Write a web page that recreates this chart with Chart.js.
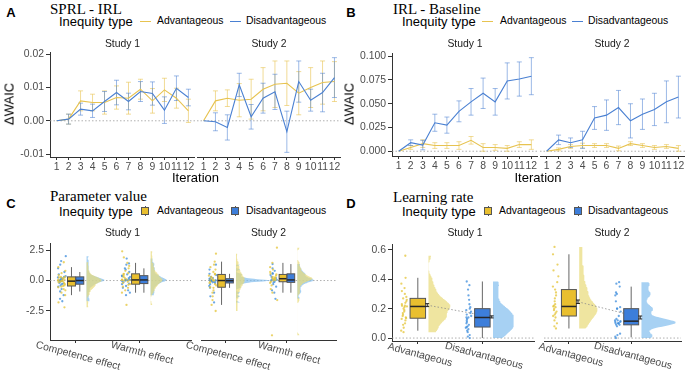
<!DOCTYPE html>
<html lang="en">
<head>
<meta charset="UTF-8">
<title>Inequity type: model comparison and parameters</title>
<script src="https://cdn.jsdelivr.net/npm/chart.js"></script>
<style>
  body { margin:0; background:#fff; font-family:"Liberation Sans", Arial, sans-serif; }
  #fig { position:relative; width:685px; height:371px; overflow:hidden; background:#fff; }
  #fig canvas { position:absolute; }
  .t  { position:absolute; white-space:nowrap; transform:translate(-50%,-50%); color:#000; line-height:1; }
  .tl { position:absolute; white-space:nowrap; transform:translateY(-50%); color:#000; line-height:1; }
  .tag  { font-weight:bold; font-size:13px; }
  .ttl  { font-family:"Liberation Serif","Times New Roman",serif; font-size:15px; }
  .legt { font-size:13px; }
  .leg  { font-size:10.4px; }
  .strip{ font-size:10.4px; color:#1a1a1a; }
  .axt  { font-size:13px; }
  .cat  { font-size:10.4px; color:#4D4D4D; }
  .rot  { transform:translate(-50%,-50%) rotate(-90deg); }
  .kl { position:absolute; height:0; border-top:1.2px solid; }
  .kb { position:absolute; width:6px; height:6px; border:1px solid #555; }
  .kw { position:absolute; width:0; height:10px; border-left:1px solid #555; }
</style>
</head>
<body>
<div id="fig"></div>
<script>
// ---------- data ----------
const iterations = [1,2,3,4,5,6,7,8,9,10,11,12];

// A: SPRL - IRL (delta WAIC, mean and error)
const sprlAdvS1    = [0,0.0005,0.006,0.0055,0.0055,0.007,0.0068,0.0095,0.006,0.0093,0.0068,0.003];
const sprlAdvS1Err = [0,0.0015,0.003,0.0025,0.0035,0.0035,0.0048,0.003,0.0037,0.0035,0.003,0.0035];
const sprlDisS1    = [0,0.0005,0.0035,0.003,0.0058,0.0085,0.0058,0.0088,0.0082,0.0032,0.0098,0.007];
const sprlDisS1Err = [0,0.0015,0.0018,0.002,0.003,0.0037,0.0025,0.003,0.0035,0.004,0.0037,0.0025];
const sprlAdvS2    = [0,0.006,0.0068,0.0062,0.0065,0.0095,0.011,0.0113,0.0083,0.01,0.0115,0.0118];
const sprlAdvS2Err = [0,0.003,0.0025,0.005,0.006,0.0065,0.007,0.0067,0.0065,0.006,0.0065,0.006];
const sprlDisS2    = [0,-0.0003,-0.002,0.0108,0.0012,0.0068,0.0087,-0.0033,0.0118,0.0062,0.0085,0.013];
const sprlDisS2Err = [0,0.0027,0.0038,0.0035,0.0037,0.0045,0.0053,0.0062,0.0062,0.0033,0.0058,0.006];

// B: IRL - Baseline
const irlAdvS1    = [0,0.004,0.008,0.006,0.006,0.006,0.0115,0.004,0.004,0.003,0.007,0.007];
const irlAdvS1Err = [0,0.002,0.004,0.003,0.003,0.004,0.004,0.004,0.003,0.003,0.003,0.005];
const irlDisS1    = [0,0.009,0.0065,0.030,0.0275,0.042,0.052,0.061,0.052,0.074,0.076,0.079];
const irlDisS1Err = [0,0.003,0.005,0.009,0.0085,0.011,0.014,0.016,0.014,0.019,0.018,0.0195];
const irlAdvS2    = [0,0.002,0.005,0.006,0.006,0.006,0.003,0.008,0.006,0.004,0.005,0.003];
const irlAdvS2Err = [0,0.0015,0.002,0.0025,0.002,0.002,0.0025,0.002,0.002,0.002,0.002,0.003];
const irlDisS2    = [0,0.012,0.009,0.012,0.035,0.038,0.046,0.032,0.039,0.044,0.052,0.057];
const irlDisS2Err = [0,0.005,0.005,0.009,0.012,0.016,0.018,0.018,0.016,0.017,0.022,0.022];

// C: parameter values, [competence, warmth]
const paramCats = ['Competence effect','Warmth effect'];
const paramAdvS1 = [
  [-2.2,-1.8,-1.2,-1.0,-0.8,-0.7,-0.55,-0.5,-0.45,-0.4,-0.3,-0.2,-0.15,-0.1,-0.05,-0.05,0,0,0.05,0.1,0.15,0.2,0.25,0.3,0.3,0.45,0.6,0.8,1.1,1.5],
  [-2.0,-1.0,-0.8,-0.6,-0.5,-0.35,-0.3,-0.2,-0.1,0,0.02,0.05,0.08,0.1,0.2,0.3,0.4,0.5,0.55,0.6,0.8,1.0,1.2,1.45,1.9,2.4]];
const paramDisS1 = [
  [-1.7,-1.5,-1.2,-0.9,-0.7,-0.5,-0.4,-0.3,-0.25,-0.2,-0.1,-0.05,0,0,0,0.02,0.05,0.1,0.15,0.2,0.25,0.3,0.35,0.5,0.7,1.0,1.3,1.6,2.0],
  [-1.2,-1.0,-0.8,-0.6,-0.45,-0.3,-0.25,-0.15,-0.05,0,0.03,0.05,0.05,0.08,0.1,0.2,0.3,0.35,0.4,0.5,0.7,0.9,1.0,1.3,1.4,1.8]];
const paramAdvS2 = [
  [-2.5,-2.0,-1.6,-1.3,-1.0,-0.8,-0.6,-0.55,-0.4,-0.3,-0.2,-0.1,0,0,0.05,0.1,0.2,0.3,0.4,0.5,0.55,0.7,0.9,1.1,1.3,1.55,2.2],
  [-4.5,-1.6,-1.0,-0.7,-0.4,-0.2,-0.1,0,0.05,0.1,0.15,0.15,0.2,0.25,0.3,0.4,0.5,0.55,0.7,0.9,1.1,1.45,2.7]];
const paramDisS2 = [
  [-1.8,-1.3,-1.0,-0.6,-0.45,-0.3,-0.2,-0.15,-0.1,-0.05,-0.03,-0.02,-0.01,0,0,0.02,0.05,0.08,0.12,0.15,0.2,0.3,0.45,0.55,0.9,1.3],
  [-1.5,-1.0,-0.8,-0.5,-0.3,-0.15,-0.1,0,0.02,0.05,0.08,0.1,0.2,0.3,0.45,0.55,0.6,0.8,1.0,1.35]];
// box stats: [lower whisker, q1, median, q3, upper whisker]
const paramBoxAdvS1 = [[-1.2,-0.45,-0.05,0.3,1.1],[-1.0,-0.3,0.05,0.55,1.45]];
const paramBoxDisS1 = [[-0.9,-0.3,0,0.3,0.7],[-1.0,-0.25,0.05,0.4,1.0]];
const paramBoxAdvS2 = [[-2.0,-0.55,0,0.5,1.55],[-1.0,-0.1,0.15,0.5,1.45]];
const paramBoxDisS2 = [[-0.6,-0.2,-0.02,0.15,0.55],[-1.0,-0.15,0.05,0.55,1.35]];

// D: learning rate, [advantageous, disadvantageous]
const lrCats = ['Advantageous','Disadvantageous'];
const lrS1 = [
  [0.04,0.05,0.07,0.09,0.1,0.12,0.13,0.135,0.14,0.15,0.16,0.17,0.18,0.19,0.2,0.21,0.215,0.22,0.22,0.23,0.24,0.25,0.26,0.27,0.28,0.3,0.32,0.34,0.37,0.41,0.56],
  [0,0.01,0.02,0.04,0.05,0.06,0.07,0.075,0.08,0.09,0.1,0.11,0.12,0.13,0.14,0.14,0.15,0.16,0.17,0.18,0.19,0.2,0.21,0.23,0.26,0.29,0.33,0.36,0.385]];
const lrS2 = [
  [0.065,0.08,0.1,0.12,0.14,0.15,0.16,0.17,0.18,0.19,0.2,0.21,0.215,0.22,0.23,0.25,0.27,0.29,0.31,0.33,0.35,0.38,0.42,0.46,0.5,0.57,0.62],
  [0,0.01,0.02,0.03,0.08,0.09,0.09,0.1,0.1,0.1,0.1,0.11,0.11,0.115,0.12,0.12,0.13,0.15,0.18,0.2,0.2,0.21,0.25,0.29,0.3,0.31,0.35,0.37,0.38]];
const lrBoxS1 = [[0.05,0.135,0.215,0.27,0.41],[0.0,0.075,0.14,0.2,0.385]];
const lrBoxS2 = [[0.065,0.15,0.215,0.33,0.57],[0.005,0.09,0.115,0.2,0.35]];
const lrMeanS1 = [0.224,0.144], lrSeS1 = [0.01,0.007];
const lrMeanS2 = [0.247,0.14],  lrSeS2 = [0.012,0.01];

// ---------- style ----------
const FONT = '"Liberation Sans", Arial, Helvetica, sans-serif';
const TICK = '#4D4D4D', AXIS = '#333333';
const ADV = { line:'#E7C350', err:'rgba(231,195,80,0.6)',  box:'#E9BF2F', pt:'rgba(228,196,55,0.75)', vio:'rgba(232,218,120,0.7)' };
const DIS = { line:'#4A80D2', err:'rgba(74,128,210,0.55)', box:'#3D7EDA', pt:'rgba(60,140,220,0.75)', vio:'rgba(130,190,238,0.7)' };
const fig = document.getElementById('fig');

// ---------- plugins ----------
const zeroLine = {
  id: 'zeroLine',
  beforeDatasetsDraw(chart) {
    const {ctx, chartArea: a, scales: {y}} = chart;
    const py = y.getPixelForValue(0);
    ctx.save();
    ctx.strokeStyle = '#9a9a9a'; ctx.lineWidth = 0.8; ctx.setLineDash([1.5, 2]);
    ctx.beginPath(); ctx.moveTo(a.left, py); ctx.lineTo(a.right, py); ctx.stroke();
    ctx.restore();
  }
};

const errorBars = {
  id: 'errorBars',
  beforeDatasetsDraw(chart) {
    const {ctx, scales: {x, y}} = chart;
    chart.data.datasets.forEach(ds => {
      if (!ds.errors) return;
      ctx.save();
      ctx.strokeStyle = ds.errorColor; ctx.lineWidth = 1;
      ds.data.forEach((p, i) => {
        const e = ds.errors[i];
        if (!e) return;
        const px = x.getPixelForValue(p.x);
        const t = y.getPixelForValue(p.y + e), b = y.getPixelForValue(p.y - e);
        ctx.beginPath();
        ctx.moveTo(px, t); ctx.lineTo(px, b);
        ctx.moveTo(px - 2.5, t); ctx.lineTo(px + 2.5, t);
        ctx.moveTo(px - 2.5, b); ctx.lineTo(px + 2.5, b);
        ctx.stroke();
      });
      ctx.restore();
    });
  }
};

function boxLayer(groups, linkMeans) {
  return {
    id: 'boxLayer',
    afterDatasetsDraw(chart) {
      const {ctx, scales: {x, y}} = chart;
      ctx.save();
      if (linkMeans) {
        const m = groups.filter(g => g.mean != null);
        ctx.strokeStyle = '#8a8a8a'; ctx.lineWidth = 0.8; ctx.setLineDash([1.5, 2]);
        ctx.beginPath();
        m.forEach((g, i) => {
          const px = x.getPixelForValue(g.meanPos), py = y.getPixelForValue(g.mean);
          i ? ctx.lineTo(px, py) : ctx.moveTo(px, py);
        });
        ctx.stroke();
        ctx.setLineDash([]);
      }
      groups.forEach(g => {
        const [lo, q1, md, q3, hi] = g.box;
        const xc = x.getPixelForValue(g.boxPos);
        const xl = x.getPixelForValue(g.boxPos - g.half), xr = x.getPixelForValue(g.boxPos + g.half);
        const yt = y.getPixelForValue(q3), yb = y.getPixelForValue(q1);
        ctx.strokeStyle = '#666'; ctx.lineWidth = 1;
        ctx.beginPath();
        ctx.moveTo(xc, y.getPixelForValue(hi)); ctx.lineTo(xc, yt);
        ctx.moveTo(xc, yb); ctx.lineTo(xc, y.getPixelForValue(lo));
        ctx.stroke();
        ctx.fillStyle = g.pal.box;
        ctx.fillRect(xl, yt, xr - xl, yb - yt);
        ctx.strokeStyle = '#555';
        ctx.strokeRect(xl, yt, xr - xl, yb - yt);
        ctx.strokeStyle = '#262626'; ctx.lineWidth = 1.5;
        const ym = y.getPixelForValue(md);
        ctx.beginPath(); ctx.moveTo(xl, ym); ctx.lineTo(xr, ym); ctx.stroke();
        if (g.mean != null) {
          const mx = x.getPixelForValue(g.meanPos);
          const t = y.getPixelForValue(g.mean + g.se), b = y.getPixelForValue(g.mean - g.se);
          ctx.strokeStyle = '#222'; ctx.lineWidth = 1;
          ctx.beginPath();
          ctx.moveTo(mx, t); ctx.lineTo(mx, b);
          ctx.moveTo(mx - 2, t); ctx.lineTo(mx + 2, t);
          ctx.moveTo(mx - 2, b); ctx.lineTo(mx + 2, b);
          ctx.stroke();
        }
      });
      ctx.restore();
    }
  };
}

// ---------- helpers ----------
function frame(box, yw, xh) {
  const [L, T, R, B] = box;
  const left = L - yw, top = T - 10;
  const c = document.createElement('canvas');
  c.width = R - left; c.height = B + xh - top;
  c.style.left = left + 'px'; c.style.top = top + 'px';
  fig.appendChild(c);
  return c;
}

function xScale(min, max, ticks, xh, showLabels) {
  return {
    type: 'linear', min, max,
    afterBuildTicks: s => { s.ticks = ticks.map(v => ({value: v})); },
    afterFit: s => { s.height = xh; s.paddingLeft = 0; s.paddingRight = 0; },
    border: { color: AXIS, width: 1 },
    grid: { drawOnChartArea: false, tickLength: 3, tickColor: AXIS },
    ticks: { color: TICK, font: {family: FONT, size: 10.4}, padding: 1, maxRotation: 0, minRotation: 0,
             autoSkip: false, callback: v => showLabels ? String(v) : '' }
  };
}

function yScale(min, max, ticks, labels, show, yw) {
  return {
    type: 'linear', display: show, min, max,
    afterBuildTicks: s => { s.ticks = ticks.map(v => ({value: v})); },
    afterFit: s => { s.width = yw; s.paddingTop = 0; s.paddingBottom = 0; },
    border: { color: AXIS, width: 1 },
    grid: { drawOnChartArea: false, tickLength: 4, tickColor: AXIS },
    ticks: { color: TICK, font: {family: FONT, size: 10.4}, padding: 2, callback: (v, i) => labels[i] }
  };
}

const baseOptions = (extra) => Object.assign({
  responsive: false, animation: false, events: [], devicePixelRatio: 1,
  layout: { padding: { top: 10, left: 0, right: 0, bottom: 0 } },
  plugins: { legend: {display: false}, tooltip: {enabled: false} }
}, extra);

function lineFacet(box, showY, yRange, yTicks, yLabels, series) {
  const yw = showY ? box[0] - (box[0] > 300 ? 342 : 0) : 0;
  new Chart(frame(box, yw, 14), {
    type: 'scatter',
    data: { datasets: series.map(s => ({
      data: iterations.map((it, i) => ({x: it, y: s.values[i]})),
      errors: s.errors, errorColor: s.pal.err,
      showLine: true, borderColor: s.pal.line, borderWidth: 1.1, pointRadius: 0, tension: 0, order: s.order
    })) },
    options: baseOptions({ scales: {
      x: xScale(0.45, 12.55, iterations, 14, true),
      y: yScale(yRange[0], yRange[1], yTicks, yLabels, showY, yw)
    } }),
    plugins: [zeroLine, errorBars]
  });
}

function kde(vals, adjust) {
  const n = vals.length, mean = vals.reduce((a, b) => a + b, 0) / n;
  const sd = Math.sqrt(vals.reduce((a, b) => a + (b - mean) ** 2, 0) / (n - 1));
  const s = [...vals].sort((a, b) => a - b);
  const q = p => { const h = (n - 1) * p, l = Math.floor(h); return s[l] + (s[Math.min(l + 1, n - 1)] - s[l]) * (h - l); };
  const bw = 0.9 * Math.min(sd, (q(0.75) - q(0.25)) / 1.34) * Math.pow(n, -0.2) * adjust;
  const out = [];
  for (let k = 0; k <= 120; k++) {
    const yv = s[0] + (s[n - 1] - s[0]) * k / 120;
    let d = 0;
    vals.forEach(v => { d += Math.exp(-0.5 * ((yv - v) / bw) ** 2); });
    out.push({y: yv, d: d / (n * bw * Math.sqrt(2 * Math.PI))});
  }
  return out;
}

// deterministic horizontal jitter for the dot strip
const jitter = (i, seed) => { const s = Math.sin((i + 1) * 12.9898 + seed * 78.233) * 43758.5453; return s - Math.floor(s); };

function rainFacet(box, showY, yRange, yTicks, yLabels, groups, maxD, vioW, catLabels, linkMeans) {
  const yw = showY ? box[0] - (box[0] > 300 ? 342 : 0) : 0;
  const datasets = [];
  groups.forEach(g => {
    const poly = g.dens.map(p => ({x: g.vioBase + p.d / maxD * vioW, y: p.y}));
    poly.push({x: g.vioBase, y: g.dens[g.dens.length - 1].y}, {x: g.vioBase, y: g.dens[0].y});
    datasets.push({ data: poly, showLine: true, fill: 'shape', backgroundColor: g.pal.vio,
                    borderWidth: 0, pointRadius: 0, tension: 0, order: 3 });
  });
  groups.forEach(g => {
    datasets.push({
      data: g.values.map((v, i) => ({x: g.cat + g.ptLo + (g.ptHi - g.ptLo) * jitter(i, g.seed), y: v})),
      pointRadius: 1.15, pointBackgroundColor: g.pal.pt, pointBorderWidth: 0, order: 2
    });
  });
  const canvas = frame(box, yw, 31);
  const chart = new Chart(canvas, {
    type: 'scatter',
    data: { datasets },
    options: baseOptions({ scales: {
      x: xScale(0.6, 2.8, [1, 2], 31, false),
      y: yScale(yRange[0], yRange[1], yTicks, yLabels, showY, yw)
    } }),
    plugins: [zeroLine, boxLayer(groups, linkMeans)]
  });
  // slanted category labels, placed from the x scale
  const ox = parseFloat(canvas.style.left), oy = parseFloat(canvas.style.top);
  [1, 2].forEach((c, i) => {
    const d = document.createElement('div');
    d.className = 'cat'; d.textContent = catLabels[i];
    d.style.position = 'absolute'; d.style.whiteSpace = 'nowrap'; d.style.lineHeight = '1';
    fig.appendChild(d);
    const w = d.offsetWidth;
    d.style.left = (ox + chart.scales.x.getPixelForValue(c) + 2) + 'px';
    d.style.top = (oy + chart.chartArea.bottom + 5 + w * Math.sin(15 * Math.PI / 180) / 2) + 'px';
    d.style.transform = 'translate(-50%,-50%) rotate(15deg)';
  });
}

function txt(s, x, y, cls) {
  const d = document.createElement('div');
  d.className = 't ' + cls; d.textContent = s;
  d.style.left = x + 'px'; d.style.top = y + 'px';
  fig.appendChild(d);
}
function ltxt(s, x, y, cls) {
  const d = document.createElement('div');
  d.className = 'tl ' + cls; d.textContent = s;
  d.style.left = x + 'px'; d.style.top = y + 'px';
  fig.appendChild(d);
}
function legend(y, titleX, keyX, labX, kind) {
  ltxt('Inequity type', titleX, y, 'legt');
  [ADV, DIS].forEach((p, i) => {
    if (kind === 'line') {
      const k = document.createElement('div');
      k.className = 'kl'; k.style.left = keyX[i] + 'px'; k.style.top = y + 'px';
      k.style.width = '11px'; k.style.borderColor = p.line;
      fig.appendChild(k);
    } else {
      const w = document.createElement('div');
      w.className = 'kw'; w.style.left = (keyX[i] + 3.5) + 'px'; w.style.top = (y - 5) + 'px';
      fig.appendChild(w);
      const b = document.createElement('div');
      b.className = 'kb'; b.style.left = keyX[i] + 'px'; b.style.top = (y - 4) + 'px';
      b.style.background = p.box;
      fig.appendChild(b);
    }
    ltxt(['Advantageous', 'Disadvantageous'][i], labX[i], y, 'leg');
  });
}

// ---------- panel A ----------
const ticksA = [-0.01, 0, 0.01, 0.02], labsA = ['-0.01', '0.00', '0.01', '0.02'];
lineFacet([50, 52, 195, 157], true, [-0.0109, 0.0207], ticksA, labsA, [
  {values: sprlAdvS1, errors: sprlAdvS1Err, pal: ADV, order: 2},
  {values: sprlDisS1, errors: sprlDisS1Err, pal: DIS, order: 1}]);
lineFacet([197, 52, 341, 157], false, [-0.0109, 0.0207], ticksA, labsA, [
  {values: sprlAdvS2, errors: sprlAdvS2Err, pal: ADV, order: 2},
  {values: sprlDisS2, errors: sprlDisS2Err, pal: DIS, order: 1}]);

// ---------- panel B ----------
const ticksB = [0, 0.025, 0.05, 0.075, 0.1], labsB = ['0.000', '0.025', '0.050', '0.075', '0.100'];
lineFacet([392, 53, 538, 156], true, [-0.005, 0.1034], ticksB, labsB, [
  {values: irlAdvS1, errors: irlAdvS1Err, pal: ADV, order: 2},
  {values: irlDisS1, errors: irlDisS1Err, pal: DIS, order: 1}]);
lineFacet([540, 53, 685, 156], false, [-0.005, 0.1034], ticksB, labsB, [
  {values: irlAdvS2, errors: irlAdvS2Err, pal: ADV, order: 2},
  {values: irlDisS2, errors: irlDisS2Err, pal: DIS, order: 1}]);

// ---------- panel C ----------
function paramGroups(adv, dis, advBox, disBox, seed) {
  const out = [];
  [0, 1].forEach(c => {
    out.push({cat: c + 1, values: adv[c], box: advBox[c], pal: ADV, boxPos: c + 1 - 0.065, half: 0.062,
              ptLo: -0.28, ptHi: -0.15, vioBase: c + 1.17, seed: seed + c * 0.31});
    out.push({cat: c + 1, values: dis[c], box: disBox[c], pal: DIS, boxPos: c + 1 + 0.065, half: 0.062,
              ptLo: -0.28, ptHi: -0.15, vioBase: c + 1.17, seed: seed + c * 0.31 + 0.5});
  });
  return out;
}
const cS1 = paramGroups(paramAdvS1, paramDisS1, paramBoxAdvS1, paramBoxDisS1, 0.1);
const cS2 = paramGroups(paramAdvS2, paramDisS2, paramBoxAdvS2, paramBoxDisS2, 0.4);
[...cS1, ...cS2].forEach(g => { g.dens = kde(g.values, 0.6); });
const cMax = Math.max(...[...cS1, ...cS2].map(g => Math.max(...g.dens.map(p => p.d))));
const ticksC = [-2.5, 0, 2.5], labsC = ['-2.5', '0.0', '2.5'];
rainFacet([50, 243, 195, 340], true, [-4.88, 3.08], ticksC, labsC, cS1, cMax, 0.55, paramCats, false);
rainFacet([197, 243, 340, 340], false, [-4.88, 3.08], ticksC, labsC, cS2, cMax, 0.55, paramCats, false);

// ---------- panel D ----------
function lrGroups(vals, boxes, means, ses, seed) {
  return [0, 1].map(c => ({
    cat: c + 1, values: vals[c], box: boxes[c], pal: c === 0 ? ADV : DIS, boxPos: c + 1, half: 0.12,
    ptLo: -0.26, ptHi: -0.165, vioBase: c + 1.165, mean: means[c], se: ses[c], meanPos: c + 1.145,
    seed: seed + c * 0.37
  }));
}
const dS1 = lrGroups(lrS1, lrBoxS1, lrMeanS1, lrSeS1, 0.2);
const dS2 = lrGroups(lrS2, lrBoxS2, lrMeanS2, lrSeS2, 0.6);
[...dS1, ...dS2].forEach(g => { g.dens = kde(g.values, 0.6); });
const dMax = Math.max(...[...dS1, ...dS2].map(g => Math.max(...g.dens.map(p => p.d))));
const ticksD = [0, 0.2, 0.4, 0.6], labsD = ['0.0', '0.2', '0.4', '0.6'];
rainFacet([392, 244, 538, 341], true, [-0.02, 0.64], ticksD, labsD, dS1, dMax, 0.55, lrCats, true);
rainFacet([540, 244, 685, 341], false, [-0.02, 0.64], ticksD, labsD, dS2, dMax, 0.55, lrCats, true);

// ---------- text ----------
txt('A', 11, 12, 'tag'); txt('B', 351, 12, 'tag');
txt('C', 11, 203, 'tag'); txt('D', 351, 203, 'tag');
ltxt('SPRL - IRL', 50, 9, 'ttl'); ltxt('IRL - Baseline', 393, 9, 'ttl');
ltxt('Parameter value', 50, 196, 'ttl'); ltxt('Learning rate', 393, 197, 'ttl');
legend(21, 59, [140, 230], [157, 246], 'line');
legend(21, 402, [482, 572], [500, 588], 'line');
legend(211, 59, [141, 231], [157, 246], 'box');
legend(211, 402, [484, 574], [499, 588], 'box');
[[122.5, 44], [269, 44], [465, 44], [612, 44], [122.5, 233], [268.5, 233], [465, 233], [612, 233]]
  .forEach((p, i) => txt(i % 2 ? 'Study 2' : 'Study 1', p[0], p[1], 'strip'));
txt('\u0394WAIC', 9, 104, 'axt rot'); txt('\u0394WAIC', 349, 104, 'axt rot');
txt('Iteration', 195.5, 177, 'axt'); txt('Iteration', 538, 177, 'axt');
</script>
</body>
</html>
